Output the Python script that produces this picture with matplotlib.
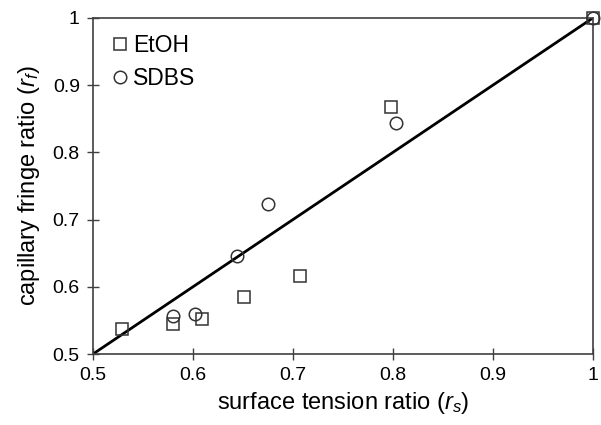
import matplotlib
matplotlib.use('Agg')
import matplotlib.pyplot as plt

plt.rcParams['font.family'] = ['Liberation Sans', 'DejaVu Sans']
plt.rcParams['mathtext.fontset'] = 'custom'
plt.rcParams['mathtext.rm'] = 'Liberation Sans'
plt.rcParams['mathtext.it'] = 'Liberation Sans:italic'

# data
etoh_x = [0.529, 0.580, 0.609, 0.651, 0.707, 0.798, 1.0]
etoh_y = [0.537, 0.545, 0.552, 0.585, 0.616, 0.867, 1.0]
sdbs_x = [0.580, 0.602, 0.644, 0.675, 0.803, 1.0]
sdbs_y = [0.556, 0.559, 0.646, 0.723, 0.843, 1.0]
ticks = [0.5, 0.6, 0.7, 0.8, 0.9, 1.0]
tick_labels = ['0.5', '0.6', '0.7', '0.8', '0.9', '1']

fig = plt.figure(figsize=(6.01, 4.25), dpi=100)
ax = fig.add_axes([0.1547, 0.167, 0.832, 0.791])

ax.plot([0.5, 1.0], [0.5, 1.0], color='black', lw=2.0, zorder=2)
ax.plot(etoh_x, etoh_y, 's', ms=9, mfc='none', mec='#333333', mew=1.1,
        label='EtOH', zorder=3, clip_on=False)
ax.plot(sdbs_x, sdbs_y, 'o', ms=9, mfc='none', mec='#333333', mew=1.1,
        label='SDBS', zorder=3, clip_on=False)

ax.set_xlim(0.5, 1.0)
ax.set_ylim(0.5, 1.0)
ax.set_xticks(ticks)
ax.set_xticklabels(tick_labels)
ax.set_yticks(ticks)
ax.set_yticklabels(tick_labels)
ax.tick_params(direction='inout', length=9, width=1.0, color='#404040',
               labelsize=14, pad=5)
for s in ax.spines.values():
    s.set_color('#404040')
    s.set_linewidth(1.2)

ax.set_xlabel(r'surface tension ratio ($r_s$)', fontsize=17, labelpad=4)
ax.set_ylabel(r'capillary fringe ratio ($r_f$)', fontsize=17, labelpad=8)

ax.legend(loc='upper left', frameon=False, fontsize=16.5, handletextpad=0.05,
          handlelength=1.0, borderaxespad=0.2, labelspacing=0.45,
          borderpad=0.5)

fig.savefig('out.png', dpi=100)
